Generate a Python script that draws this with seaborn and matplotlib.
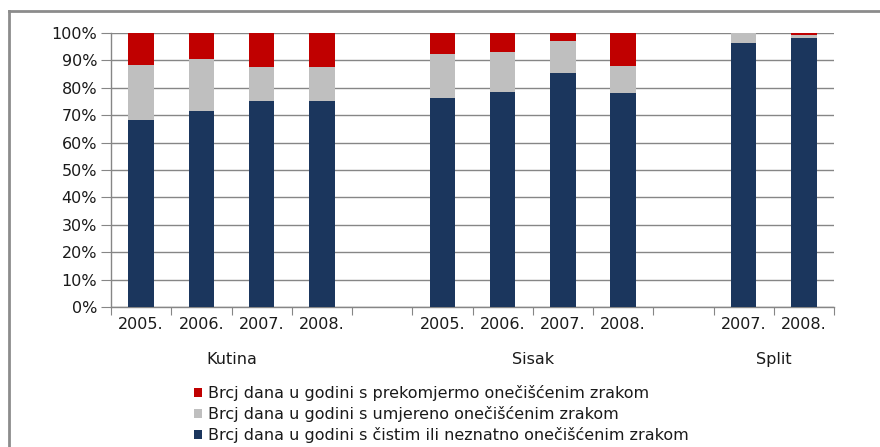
import matplotlib
matplotlib.use("Agg")
import matplotlib.pyplot as plt
from matplotlib.patches import Patch
from matplotlib.lines import Line2D
import numpy as np
import pandas as pd
import seaborn as sns

# slots on the category axis (empty strings = spacer slots between towns)
slots = ["Kutina 2005", "Kutina 2006", "Kutina 2007", "Kutina 2008", "",
         "Sisak 2005", "Sisak 2006", "Sisak 2007", "Sisak 2008", " ",
         "Split 2007", "Split 2008"]
year_labels = ["2005.", "2006.", "2007.", "2008.", "",
               "2005.", "2006.", "2007.", "2008.", "",
               "2007.", "2008."]
towns = ["Kutina", "Sisak", "Split"]
town_slots = [(0, 3), (5, 8), (10, 11)]

# shares in % per bar (clean, moderate, excessive)
bars = ["Kutina 2005", "Kutina 2006", "Kutina 2007", "Kutina 2008",
        "Sisak 2005", "Sisak 2006", "Sisak 2007", "Sisak 2008",
        "Split 2007", "Split 2008"]
clean = [68.2, 71.5, 75.2, 75.2, 76.3, 78.5, 85.4, 78.1, 96.4, 98.2]
moderate = [20.1, 19.0, 12.4, 12.4, 16.0, 14.6, 11.7, 9.9, 3.6, 1.1]
excessive = [11.7, 9.5, 12.4, 12.4, 7.7, 6.9, 2.9, 12.0, 0.0, 0.7]

labels = ["Brcj dana u godini s prekomjermo onečišćenim zrakom",
          "Brcj dana u godini s umjereno onečišćenim zrakom",
          "Brcj dana u godini s čistim ili neznatno onečišćenim zrakom"]
colors = ["#c00000", "#bfbfbf", "#1b365d"]

df = pd.DataFrame({"bar": bars, "clean": clean, "moderate": moderate,
                   "excessive": excessive})
df["top_mod"] = df["clean"] + df["moderate"]
df["top_exc"] = df["top_mod"] + df["excessive"]

plt.rcParams["font.family"] = ["DejaVu Sans"]
FS = 11.5
TXT = "#1a1a1a"

fig = plt.figure(figsize=(8.8, 4.47), dpi=100)
ax = fig.add_axes([111 / 880, 1 - 307 / 447, 723 / 880, 274 / 447])

# stacked by drawing cumulative heights back to front
for col, c in zip(["top_exc", "top_mod", "clean"], colors):
    sns.barplot(data=df, x="bar", y=col, order=slots, color=c, width=0.42,
                saturation=1, ax=ax, errorbar=None, zorder=3)

ax.set_xlim(-0.5, len(slots) - 0.5)
ax.set_ylim(0, 100)
ax.set_yticks(np.arange(0, 101, 10))
ax.set_yticklabels([f"{v}%" for v in range(0, 101, 10)])
ax.yaxis.grid(True, color="#868686", lw=1, zorder=0)
ax.set_axisbelow(True)

ax.set_xticks(np.arange(-0.5, len(slots), 1.0))
ax.set_xticklabels([])
ax.set_xticks(np.arange(len(slots)), minor=True)
ax.set_xticklabels(year_labels, minor=True)
ax.tick_params(axis="x", which="major", length=6, color="#868686")
ax.tick_params(axis="x", which="minor", length=0, pad=7, labelsize=FS,
               labelcolor=TXT)
ax.tick_params(axis="y", length=7, color="#868686", pad=3, labelsize=FS,
               labelcolor=TXT)
ax.set_xlabel("")
ax.set_ylabel("")
for s in ["top", "right"]:
    ax.spines[s].set_visible(False)
for s in ["left", "bottom"]:
    ax.spines[s].set_color("#868686")
    ax.spines[s].set_linewidth(1)

for town, (a, b) in zip(towns, town_slots):
    ax.text((a + b) / 2, -19, town, ha="center", va="center", fontsize=FS,
            color=TXT, transform=ax.transData, clip_on=False)

handles = [Patch(facecolor=c, edgecolor="none") for c in colors]
fig.legend(handles, labels, loc="upper left", bbox_to_anchor=(186 / 880, 1 - 377 / 447),
           frameon=False, fontsize=FS, handlelength=0.5, handleheight=0.5,
           handletextpad=0.4, labelspacing=0.32, borderpad=0, labelcolor=TXT)

# outer chart-area border
fig.add_artist(Line2D([8.5 / 880, 8.5 / 880], [0, 1 - 10.5 / 447], color="#8c8c8c",
                      lw=2, transform=fig.transFigure))
fig.add_artist(Line2D([8.5 / 880, 1], [1 - 10.5 / 447, 1 - 10.5 / 447], color="#8c8c8c",
                      lw=2, transform=fig.transFigure))

fig.savefig("out.png", dpi=100)
